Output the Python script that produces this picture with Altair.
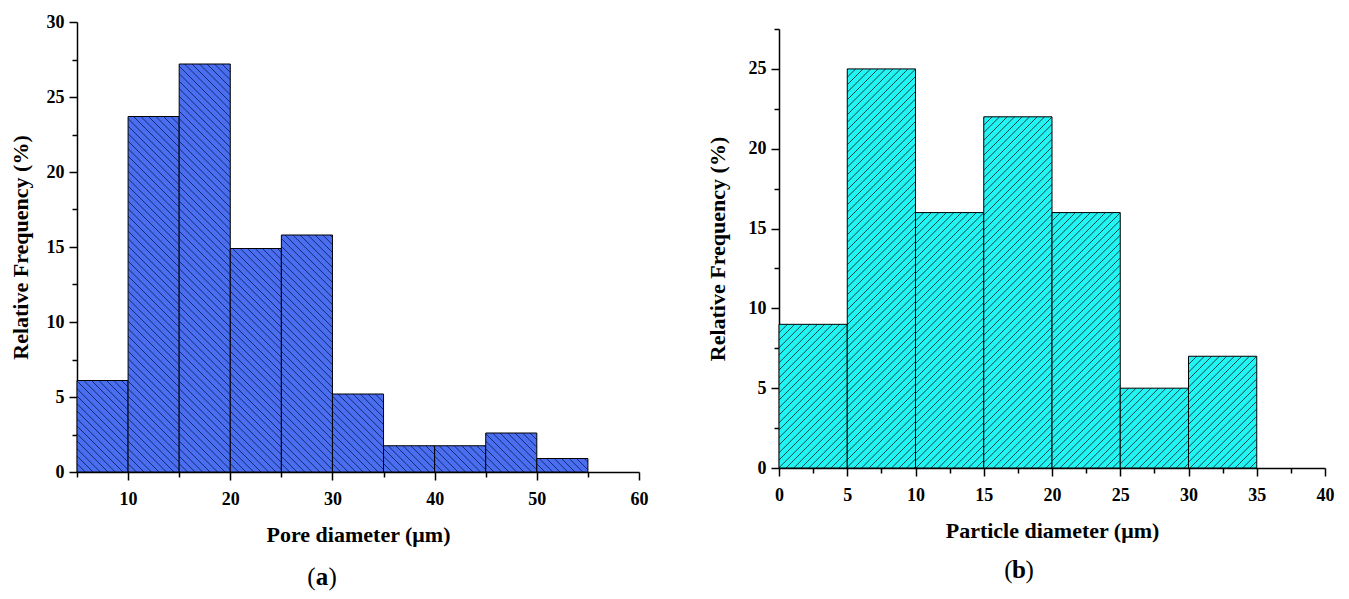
import math
import altair as alt
import pandas as pd

# ---------------- data ----------------
pore_start = [5, 10, 15, 20, 25, 30, 35, 40, 45, 50]
pore_freq = [6.1, 23.7, 27.2, 14.9, 15.8, 5.2, 1.75, 1.75, 2.6, 0.9]
particle_start = [0, 5, 10, 15, 20, 25, 30]
particle_freq = [9, 25, 16, 22, 16, 5, 7]
bin_width = 5
panel_labels = ["a", "b"]
pore_title = "Pore diameter (μm)"
particle_title = "Particle diameter (μm)"
y_title = "Relative Frequency (%)"

FONT = "Liberation Serif"

# ---------------- sizes ----------------
A_W, A_H = 562, 450
A_XDOM, A_YDOM = [5, 60], [0, 30]
B_W, B_H = 546, 439
B_XDOM, B_YDOM = [0, 40], [0, 27.5]


def hatch_gradient(w, h, period, lw, ramp, bg, fg, direction):
    """Linear gradient (objectBoundingBox units) giving 45-degree stripes."""
    n = (w + h) / period
    N = int(math.ceil(n))
    stops = []
    for j in range(N):
        a = j * period
        b = a + lw
        pts = [(a, bg), (a + ramp, fg), (b - ramp, fg), (b, bg)]
        for p, c in pts:
            stops.append({"offset": round(min(p / (w + h), 1), 5), "color": c})
    k = (w + h) / (w * w + h * h)
    if direction == "back":
        x1, y1, x2, y2 = 0, 1, k * w, 1 - k * h
    else:
        x1, y1, x2, y2 = 0, 0, k * w, k * h
    return {"gradient": "linear", "x1": x1, "y1": y1,
            "x2": round(x2, 6), "y2": round(y2, 6), "stops": stops}


def fill_for(starts, freqs, w_px, px_per_unit, period, bg, fg, direction):
    conds = []
    for s, f in zip(starts, freqs):
        g = hatch_gradient(w_px, f * px_per_unit, period, 1.7, 0.7, bg, fg, direction)
        conds.append({"test": f"datum.start === {s}", "value": g})
    return alt.FillValue(value=bg, condition=conds)


def make_axis(values, major, title, pad_title, orient, label_pad):
    test = f"datum.value % {major} === 0"
    return alt.Axis(
        values=values,
        title=title,
        orient=orient,
        grid=False,
        labelExpr=f"{test} ? datum.label : ''",
        tickSize={"condition": {"test": test, "value": 8}, "value": 5},
        tickWidth=1.5,
        tickColor="black",
        domainColor="black",
        domainWidth=1.5,
        labelColor="black",
        labelFont=FONT,
        labelFontSize=18,
        labelFontWeight="bold",
        labelFlush=False,
        labelOverlap=False,
        labelPadding=label_pad,
        titleFont=FONT,
        titleFontSize=22,
        titleFontWeight="bold",
        titleColor="black",
        titlePadding=pad_title,
    )


def steps(lo, hi, st):
    out = []
    v = lo
    while v <= hi + 1e-9:
        out.append(round(v, 3))
        v += st
    return out


def panel(starts, freqs, xdom, ydom, W, H, xmaj, xtitle, bg, fg, direction,
          period, letter, lx, ly, ytitle_pad):
    df = pd.DataFrame({"start": starts,
                       "end": [s + bin_width for s in starts],
                       "freq": freqs})
    w_px = bin_width * W / (xdom[1] - xdom[0])
    ppu = H / (ydom[1] - ydom[0])
    x_axis = make_axis(steps(xdom[0], xdom[1], 2.5 if xmaj == 5 else 5), xmaj,
                       xtitle, 16, "bottom", 10)
    y_axis = make_axis(steps(ydom[0], ydom[1], 2.5), 5, y_title, ytitle_pad,
                       "left", 5)
    bars = alt.Chart(df).mark_rect(stroke="black", strokeWidth=1).encode(
        x=alt.X("start:Q", scale=alt.Scale(domain=xdom, nice=False, zero=False),
                axis=x_axis),
        x2="end:Q",
        y=alt.Y("freq:Q", scale=alt.Scale(domain=ydom, nice=False), axis=y_axis),
        y2=alt.datum(0),
        fill=fill_for(starts, freqs, w_px, ppu, period, bg, fg, direction),
    )
    lab = pd.DataFrame({"letter": [letter]})
    base = alt.Chart(lab)
    t_mid = base.mark_text(font=FONT, fontSize=25, fontWeight="bold",
                           baseline="middle", align="center", color="black").encode(
        x=alt.value(lx), y=alt.value(ly), text="letter:N")
    t_l = base.mark_text(font=FONT, fontSize=25, baseline="middle", align="right",
                         color="black", text="(").encode(
        x=alt.value(lx - 6.5), y=alt.value(ly))
    t_r = base.mark_text(font=FONT, fontSize=25, baseline="middle", align="left",
                         color="black", text=")").encode(
        x=alt.value(lx + 6.5), y=alt.value(ly))
    return alt.layer(bars, t_mid, t_l, t_r).properties(width=W, height=H)


chart_a = panel(pore_start, pore_freq, A_XDOM, A_YDOM, A_W, A_H, 10, pore_title,
                "#4A6EF0", "#1A2670", "back", 7.5, panel_labels[0], 245, 555, 14)
chart_b = panel(particle_start, particle_freq, B_XDOM, B_YDOM, B_W, B_H, 5,
                particle_title, "#22F3F3", "#0C4848", "fwd", 7.5, panel_labels[1],
                240, 541, 19)

spacer = alt.Chart(alt.Data(values=[])).mark_point().encode(
    x=alt.value(0), y=alt.value(0)).properties(width=1, height=1)
right = alt.vconcat(spacer, chart_b, spacing=6, bounds="flush")

chart = alt.hconcat(chart_a, right, spacing=58).properties(
    padding={"left": 1, "top": 5, "right": 5, "bottom": 5}
).configure(background="white", view=alt.ViewConfig(stroke=None))

chart.save("out.html", embed_options={"renderer": "svg", "actions": False})
